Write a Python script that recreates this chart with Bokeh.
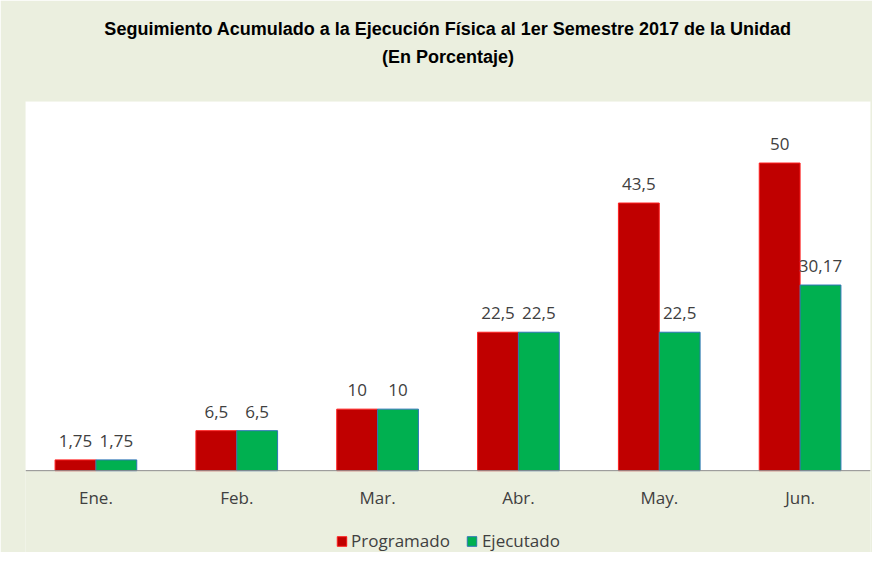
from bokeh.plotting import figure
from bokeh.models import (ColumnDataSource, Legend, LegendItem, Title, FactorRange,
                          BoxAnnotation, Span)
from bokeh.transform import dodge
from bokeh.core.properties import value
from bokeh.embed import file_html
from bokeh.resources import INLINE

months = ["Ene.", "Feb.", "Mar.", "Abr.", "May.", "Jun."]
programado = [1.75, 6.5, 10, 22.5, 43.5, 50]
ejecutado = [1.75, 6.5, 10, 22.5, 22.5, 30.17]
prog_labels = ["1,75", "6,5", "10", "22,5", "43,5", "50"]
ejec_labels = ["1,75", "6,5", "10", "22,5", "22,5", "30,17"]

BG = "#ebefdf"
RED = "#c00000"
GREEN = "#00b050"
FONT = "Open Sans"
TXT = "#404040"

src = ColumnDataSource(dict(month=months, prog=programado, ejec=ejecutado,
                            prog_lab=prog_labels, ejec_lab=ejec_labels,
                            zero=[0] * len(months)))

p = figure(x_range=FactorRange(*months, range_padding=0), y_range=(-13.3, 60),
           width=872, height=552, output_backend="svg", toolbar_location=None,
           min_border_left=25, min_border_right=2, min_border_top=101,
           min_border_bottom=0, background_fill_color=BG,
           border_fill_color=BG, outline_line_color=None)

# white plot area above the baseline
p.add_layout(BoxAnnotation(bottom=0, fill_color="white", fill_alpha=1,
                           line_color=None, level="underlay"))
# baseline (category axis line)
p.add_layout(Span(location=0, dimension="width", line_color="#8c8c8c", line_width=1))

r1 = p.vbar(x=dodge("month", -0.145, range=p.x_range), top="prog", width=0.29,
            source=src, fill_color=RED, line_color="#ff2020", line_width=1)
r2 = p.vbar(x=dodge("month", 0.145, range=p.x_range), top="ejec", width=0.29,
            source=src, fill_color=GREEN, line_color="#2e75b6", line_width=1)

p.text(x=dodge("month", -0.145, range=p.x_range), y="prog", text="prog_lab", source=src,
       text_align="center", text_baseline="bottom", y_offset=-13,
       text_font=value(FONT), text_font_size="17px", text_color=TXT)
p.text(x=dodge("month", 0.145, range=p.x_range), y="ejec", text="ejec_lab", source=src,
       text_align="center", text_baseline="bottom", y_offset=-13,
       text_font=value(FONT), text_font_size="17px", text_color=TXT)

# category labels under the baseline
p.text(x="month", y="zero", text="month", source=src, text_align="center",
       text_baseline="middle", y_offset=27, text_font=value(FONT),
       text_font_size="17px", text_color=TXT)

p.xaxis.visible = False
p.yaxis.visible = False
p.xgrid.grid_line_color = None
p.ygrid.grid_line_color = None

legend = Legend(items=[LegendItem(label="Programado", renderers=[r1]),
                       LegendItem(label="Ejecutado", renderers=[r2])],
                orientation="horizontal", location="bottom_center",
                label_text_font=FONT, label_text_font_size="17px",
                label_text_color=TXT, glyph_width=12, glyph_height=12,
                spacing=16, padding=0, margin=0, label_standoff=4,
                border_line_color=None, background_fill_alpha=0)
p.add_layout(legend)

p.add_layout(Title(text=" ", text_font_size="17px"), "above")
p.add_layout(Title(text="(En Porcentaje)", align="center", text_font="Liberation Sans",
                   text_font_size="18px", text_font_style="bold", text_color="#000000",
                   standoff=7), "above")
p.add_layout(Title(text="Seguimiento Acumulado a la Ejecución Física al 1er Semestre 2017 de la Unidad",
                   align="center", text_font="Liberation Sans", text_font_size="18px",
                   text_font_style="bold", text_color="#000000", standoff=6), "above")

open("out.html", "w").write(file_html(p, INLINE))
